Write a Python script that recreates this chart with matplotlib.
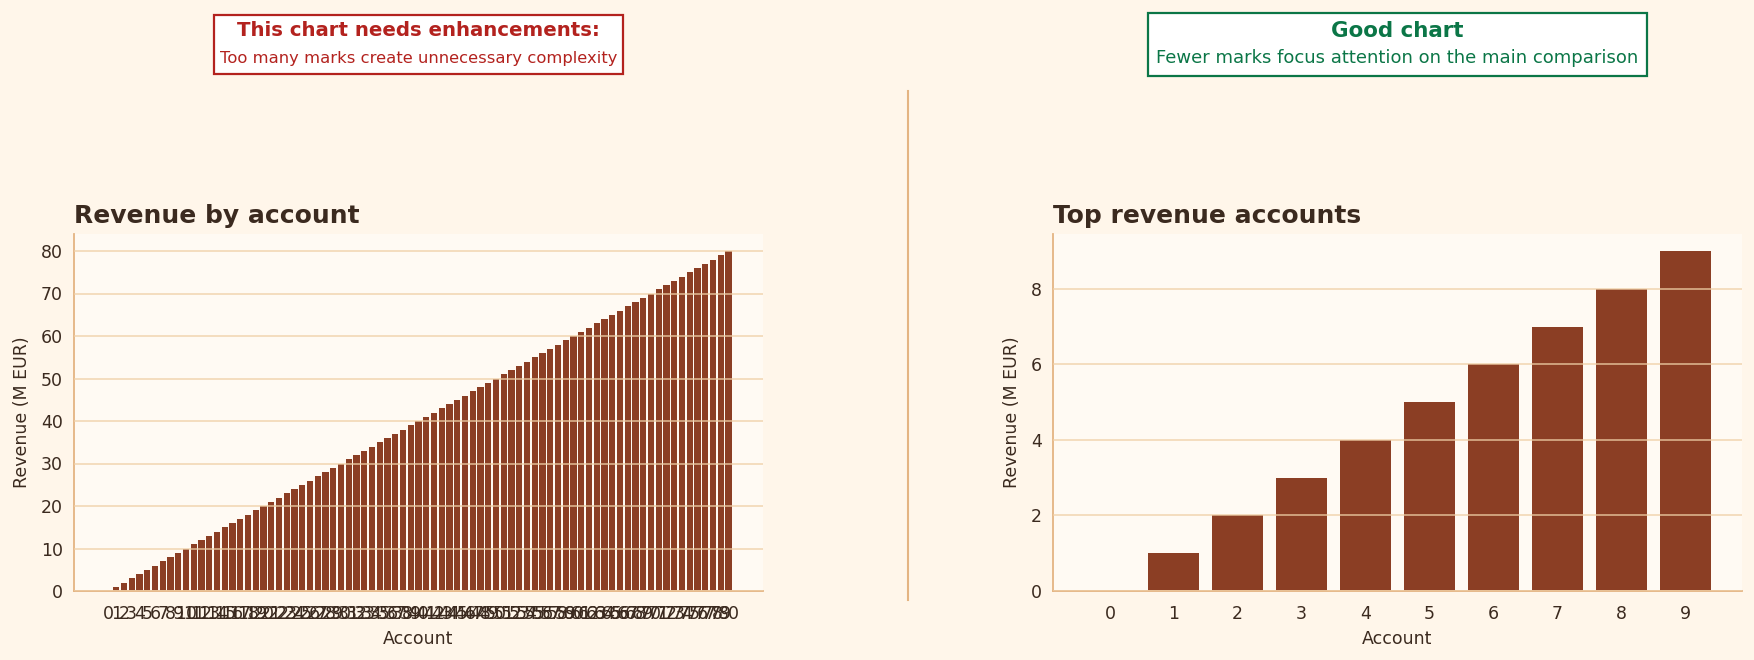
import matplotlib
matplotlib.use("Agg")
import matplotlib.pyplot as plt
from matplotlib.patches import Rectangle
from matplotlib.lines import Line2D

# data
all_accounts = list(range(81))
all_revenue = [float(v) for v in range(81)]
top_accounts = list(range(10))
top_revenue = [0, 1, 2, 3, 4, 5, 6, 7, 8, 9]

bg = "#fff6ea"
ax_bg = "#fffaf3"
bar_col = "#8b3e24"
grid_col = "#efcfa6"
spine_col = "#e4b482"
txt = "#3b2a1f"
red = "#b3221e"
green = "#0b7647"

plt.rcParams["font.family"] = "DejaVu Sans"

fig = plt.figure(figsize=(17.54, 6.6), dpi=100, facecolor=bg)
W, H = 1754, 660


def px_axes(x0, y0, x1, y1):
    return fig.add_axes([x0 / W, 1 - y1 / H, (x1 - x0) / W, (y1 - y0) / H])


def style(ax, title):
    ax.set_facecolor(ax_bg)
    for s in ["top", "right"]:
        ax.spines[s].set_visible(False)
    for s in ["left", "bottom"]:
        ax.spines[s].set_color(spine_col)
        ax.spines[s].set_linewidth(1.3)
    ax.set_axisbelow(False)
    ax.grid(axis="y", color=grid_col, linewidth=1.2, alpha=0.8)
    ax.tick_params(colors=txt, labelsize=12.5, length=0)
    ax.tick_params(axis="x", pad=10)
    ax.tick_params(axis="y", pad=8)
    ax.set_xlabel("Account", fontsize=12.5, color=txt, labelpad=5)
    ax.set_ylabel("Revenue (M EUR)", fontsize=12.5, color=txt, labelpad=7)
    ax.set_title(title, loc="left", fontsize=18, fontweight="bold", color=txt, pad=8)


ax1 = px_axes(74, 234, 763, 591)
ax1.bar(all_accounts, all_revenue, color=bar_col, width=0.8)
ax1.set_xticks(all_accounts)
ax1.set_xticklabels([str(a) for a in all_accounts])
style(ax1, "Revenue by account")

ax2 = px_axes(1053, 234, 1742, 591)
ax2.bar(top_accounts, top_revenue, color=bar_col, width=0.8)
ax2.set_xticks(top_accounts)
style(ax2, "Top revenue accounts")


def note_box(x0, y0, x1, y1, head, sub, col, hs, ss):
    fig.patches.append(Rectangle((x0 / W, 1 - y1 / H), (x1 - x0) / W, (y1 - y0) / H,
                                 transform=fig.transFigure, facecolor="white",
                                 edgecolor=col, linewidth=1.6))
    cx = (x0 + x1) / 2 / W
    fig.text(cx, 1 - 31 / H, head, ha="center", va="center", fontsize=hs,
             fontweight="bold", color=col)
    fig.text(cx, 1 - 58 / H, sub, ha="center", va="center", fontsize=ss, color=col)


note_box(214, 15, 623, 74, "This chart needs enhancements:",
         "Too many marks create unnecessary complexity", red, 14.2, 11.8)
note_box(1148, 13, 1647, 76, "Good chart",
         "Fewer marks focus attention on the main comparison", green, 15.4, 13)

fig.lines.append(Line2D([908 / W, 908 / W], [1 - 91 / H, 1 - 600 / H],
                        transform=fig.transFigure, color=spine_col, linewidth=1.5))

fig.savefig("out.png", dpi=100, facecolor=bg)
